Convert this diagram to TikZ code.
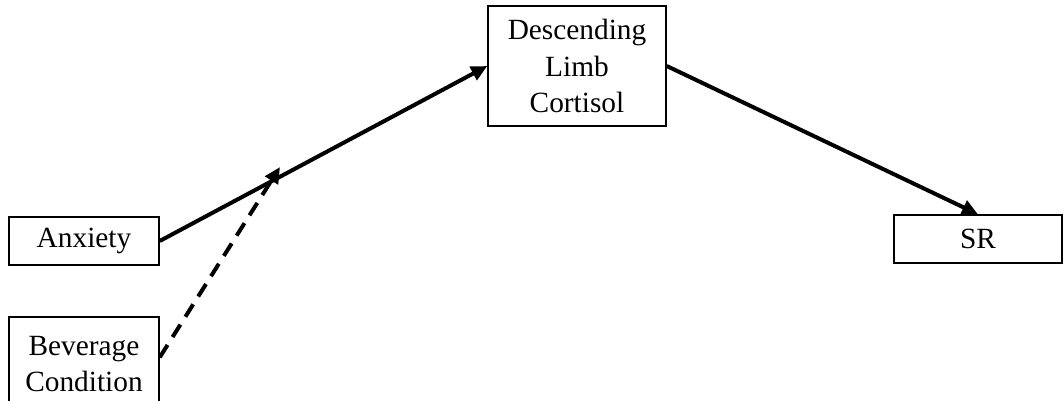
\documentclass[tikz,border=0pt]{standalone}
\usepackage{fontspec}
\setmainfont{Liberation Serif}
\usetikzlibrary{arrows.meta}
\begin{document}
\begin{tikzpicture}[x=0.75pt,y=-0.75pt,
  box/.style={draw,line width=1.1pt,align=center,inner sep=0pt,
    font=\fontsize{22}{27.5}\selectfont},
  path/.style={line width=3pt,-{Triangle[length=12pt,width=11pt]}},
  dpath/.style={path,dash pattern=on 11pt off 7pt}]
\useasboundingbox (0,0) rectangle (1064,400);
\clip (0,0) rectangle (1064,400);
\node[box,minimum width=150*0.75pt,minimum height=48*0.75pt] (anx) at (84,241) {Anxiety};
\node[box,minimum width=150*0.75pt,minimum height=94*0.75pt] (bev) at (84,364) {Beverage\\Condition};
\node[box,minimum width=178*0.75pt,minimum height=120*0.75pt] (cort) at (577,66) {Descending\\Limb\\Cortisol};
\node[box,minimum width=168*0.75pt,minimum height=48*0.75pt] (sr) at (978,239) {SR};
\coordinate (mod) at (280,167);
\coordinate (bevout) at ([yshift=5pt]bev.east);
\draw[path] (anx.east) -- (cort.west);
\draw[path] (cort.east) -- (sr.north);
\draw[dpath] (bevout) -- (mod);
\end{tikzpicture}
\end{document}
